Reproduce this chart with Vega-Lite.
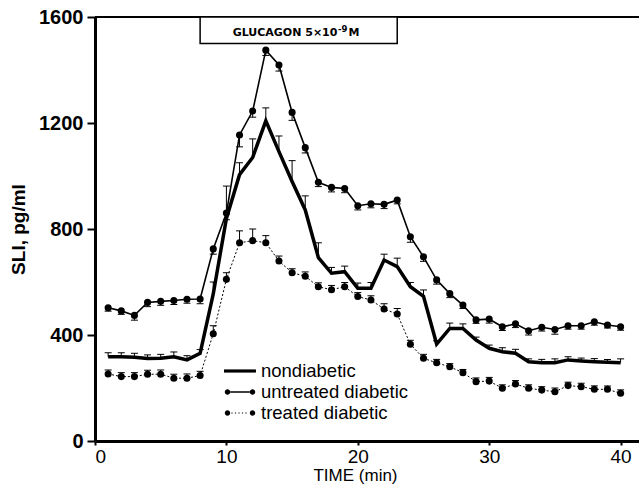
{
"$schema": "https://vega.github.io/schema/vega-lite/v6.json",
"width": 544, "height": 424,
"autosize": "none",
"padding": {"left": 95, "top": 17, "right": 0, "bottom": 44},
"background": "white",
"config": {"view": {"stroke": null}, "font": "Liberation Sans",
 "axis": {"grid": false, "domainColor": "black", "tickColor": "black", "labelColor": "black", "titleColor": "black", "labelFont": "Liberation Sans", "titleFont": "Liberation Sans"},
 "axisX": {"labelFontSize": 19, "titleFontSize": 17, "titleFontWeight": "normal", "domainWidth": 3, "tickWidth": 2, "tickSize": 4, "labelPadding": 2, "titlePadding": 1, "titleX": 260},
 "axisY": {"labelFontSize": 20, "labelFontWeight": "bold", "titleFontSize": 19, "titleFontWeight": "bold", "domainWidth": 3, "tickWidth": 2, "tickSize": 8, "labelPadding": 4, "titlePadding": 10}},
"datasets": {"sli": [
{"t":1,"s":"untreated diabetic","v":503,"e":490},{"t":2,"s":"untreated diabetic","v":491,"e":478},{"t":3,"s":"untreated diabetic","v":474,"e":456},{"t":4,"s":"untreated diabetic","v":523,"e":507},{"t":5,"s":"untreated diabetic","v":527,"e":512},{"t":6,"s":"untreated diabetic","v":530,"e":515},{"t":7,"s":"untreated diabetic","v":535,"e":520},{"t":8,"s":"untreated diabetic","v":536,"e":518},{"t":9,"s":"untreated diabetic","v":725,"e":705},{"t":10,"s":"untreated diabetic","v":860,"e":835},
{"t":11,"s":"untreated diabetic","v":1155,"e":1110},{"t":12,"s":"untreated diabetic","v":1245,"e":1222},{"t":13,"s":"untreated diabetic","v":1475,"e":1455},{"t":14,"s":"untreated diabetic","v":1419,"e":1396},{"t":15,"s":"untreated diabetic","v":1240,"e":1210},{"t":16,"s":"untreated diabetic","v":1107,"e":1087},{"t":17,"s":"untreated diabetic","v":976,"e":960},{"t":18,"s":"untreated diabetic","v":957,"e":940},{"t":19,"s":"untreated diabetic","v":953,"e":937},{"t":20,"s":"untreated diabetic","v":888,"e":872},
{"t":21,"s":"untreated diabetic","v":895,"e":880},{"t":22,"s":"untreated diabetic","v":893,"e":877},{"t":23,"s":"untreated diabetic","v":909,"e":895},{"t":24,"s":"untreated diabetic","v":771,"e":750},{"t":25,"s":"untreated diabetic","v":695,"e":678},{"t":26,"s":"untreated diabetic","v":608,"e":592},{"t":27,"s":"untreated diabetic","v":556,"e":541},{"t":28,"s":"untreated diabetic","v":513,"e":500},{"t":29,"s":"untreated diabetic","v":457,"e":444},{"t":30,"s":"untreated diabetic","v":460,"e":445},
{"t":31,"s":"untreated diabetic","v":431,"e":417},{"t":32,"s":"untreated diabetic","v":442,"e":428},{"t":33,"s":"untreated diabetic","v":416,"e":400},{"t":34,"s":"untreated diabetic","v":429,"e":415},{"t":35,"s":"untreated diabetic","v":421,"e":403},{"t":36,"s":"untreated diabetic","v":435,"e":422},{"t":37,"s":"untreated diabetic","v":435,"e":422},{"t":38,"s":"untreated diabetic","v":450,"e":437},{"t":39,"s":"untreated diabetic","v":438,"e":426},{"t":40,"s":"untreated diabetic","v":431,"e":418},
{"t":1,"s":"nondiabetic","v":318,"e":333},{"t":2,"s":"nondiabetic","v":318,"e":333},{"t":3,"s":"nondiabetic","v":316,"e":331},{"t":4,"s":"nondiabetic","v":311,"e":325},{"t":5,"s":"nondiabetic","v":312,"e":327},{"t":6,"s":"nondiabetic","v":318,"e":336},{"t":7,"s":"nondiabetic","v":306,"e":322},{"t":8,"s":"nondiabetic","v":331,"e":345},{"t":9,"s":"nondiabetic","v":555,"e":600},{"t":10,"s":"nondiabetic","v":840,"e":962},
{"t":11,"s":"nondiabetic","v":1005,"e":1050},{"t":12,"s":"nondiabetic","v":1070,"e":1140},{"t":13,"s":"nondiabetic","v":1208,"e":1257},{"t":14,"s":"nondiabetic","v":1092,"e":1151},{"t":15,"s":"nondiabetic","v":979,"e":1058},{"t":16,"s":"nondiabetic","v":872,"e":925},{"t":17,"s":"nondiabetic","v":692,"e":748},{"t":18,"s":"nondiabetic","v":633,"e":655},{"t":19,"s":"nondiabetic","v":639,"e":660},{"t":20,"s":"nondiabetic","v":576,"e":596},
{"t":21,"s":"nondiabetic","v":576,"e":598},{"t":22,"s":"nondiabetic","v":683,"e":705},{"t":23,"s":"nondiabetic","v":658,"e":690},{"t":24,"s":"nondiabetic","v":582,"e":598},{"t":25,"s":"nondiabetic","v":546,"e":570},{"t":26,"s":"nondiabetic","v":366,"e":378},{"t":27,"s":"nondiabetic","v":425,"e":445},{"t":28,"s":"nondiabetic","v":425,"e":442},{"t":29,"s":"nondiabetic","v":381,"e":392},{"t":30,"s":"nondiabetic","v":350,"e":362},
{"t":31,"s":"nondiabetic","v":337,"e":352},{"t":32,"s":"nondiabetic","v":331,"e":346},{"t":33,"s":"nondiabetic","v":299,"e":310},{"t":34,"s":"nondiabetic","v":295,"e":308},{"t":35,"s":"nondiabetic","v":295,"e":310},{"t":36,"s":"nondiabetic","v":306,"e":318},{"t":37,"s":"nondiabetic","v":302,"e":313},{"t":38,"s":"nondiabetic","v":299,"e":311},{"t":39,"s":"nondiabetic","v":297,"e":308},{"t":40,"s":"nondiabetic","v":295,"e":310},
{"t":1,"s":"treated diabetic","v":253,"e":268},{"t":2,"s":"treated diabetic","v":243,"e":258},{"t":3,"s":"treated diabetic","v":243,"e":258},{"t":4,"s":"treated diabetic","v":252,"e":267},{"t":5,"s":"treated diabetic","v":252,"e":268},{"t":6,"s":"treated diabetic","v":237,"e":252},{"t":7,"s":"treated diabetic","v":237,"e":253},{"t":8,"s":"treated diabetic","v":247,"e":263},{"t":9,"s":"treated diabetic","v":405,"e":435},{"t":10,"s":"treated diabetic","v":610,"e":635},
{"t":11,"s":"treated diabetic","v":748,"e":793},{"t":12,"s":"treated diabetic","v":756,"e":800},{"t":13,"s":"treated diabetic","v":748,"e":775},{"t":14,"s":"treated diabetic","v":679,"e":698},{"t":15,"s":"treated diabetic","v":635,"e":650},{"t":16,"s":"treated diabetic","v":622,"e":638},{"t":17,"s":"treated diabetic","v":582,"e":597},{"t":18,"s":"treated diabetic","v":571,"e":587},{"t":19,"s":"treated diabetic","v":582,"e":598},{"t":20,"s":"treated diabetic","v":545,"e":560},
{"t":21,"s":"treated diabetic","v":532,"e":548},{"t":22,"s":"treated diabetic","v":498,"e":518},{"t":23,"s":"treated diabetic","v":479,"e":500},{"t":24,"s":"treated diabetic","v":365,"e":380},{"t":25,"s":"treated diabetic","v":312,"e":327},{"t":26,"s":"treated diabetic","v":295,"e":308},{"t":27,"s":"treated diabetic","v":280,"e":292},{"t":28,"s":"treated diabetic","v":258,"e":270},{"t":29,"s":"treated diabetic","v":224,"e":238},{"t":30,"s":"treated diabetic","v":226,"e":240},
{"t":31,"s":"treated diabetic","v":199,"e":212},{"t":32,"s":"treated diabetic","v":215,"e":228},{"t":33,"s":"treated diabetic","v":199,"e":212},{"t":34,"s":"treated diabetic","v":192,"e":205},{"t":35,"s":"treated diabetic","v":186,"e":200},{"t":36,"s":"treated diabetic","v":209,"e":222},{"t":37,"s":"treated diabetic","v":205,"e":218},{"t":38,"s":"treated diabetic","v":195,"e":208},{"t":39,"s":"treated diabetic","v":195,"e":208},{"t":40,"s":"treated diabetic","v":180,"e":193}
]},
"data": {"name": "sli"},
"encoding": {
 "x": {"field": "t", "type": "quantitative", "title": "TIME (min)", "scale": {"domain": [0, 41.4], "nice": false}, "axis": {"values": [0, 10, 20, 30, 40]}},
 "y": {"field": "v", "type": "quantitative", "title": "SLI, pg/ml", "scale": {"domain": [0, 1600], "nice": false}, "axis": {"values": [0, 400, 800, 1200, 1600], "format": "d"}}
},
"layer": [
{"data": {"values": [{"t": 0, "v": 1600}]},
 "mark": {"type": "rule", "strokeWidth": 2, "color": "black"},
 "encoding": {"x2": {"datum": 41.4}}},
{"data": {"values": [{"t": 8, "t2": 23, "v": 1500, "v2": 1600}]},
 "mark": {"type": "rect", "fill": "white", "stroke": "black", "strokeWidth": 1.5},
 "encoding": {"x2": {"field": "t2"}, "y2": {"field": "v2"}}},
{"data": {"values": [{"t": 18.45, "v": 1540, "a": "GLUCAGON  5×10", "b": "-9", "c": "M"}]},
 "layer": [
  {"mark": {"type": "text", "fontSize": 11, "fontWeight": "bold", "font": "DejaVu Sans", "color": "black", "align": "right", "baseline": "middle"},
   "encoding": {"text": {"field": "a"}}},
  {"mark": {"type": "text", "fontSize": 8.5, "fontWeight": "bold", "font": "DejaVu Sans", "color": "black", "align": "left", "baseline": "middle", "dx": 0.5, "dy": -4},
   "encoding": {"text": {"field": "b"}}},
  {"mark": {"type": "text", "fontSize": 11, "fontWeight": "bold", "font": "DejaVu Sans", "color": "black", "align": "left", "baseline": "middle", "dx": 11},
   "encoding": {"text": {"field": "c"}}}
 ]},
{"mark": {"type": "rule", "strokeWidth": 1, "color": "black"},
 "encoding": {"y2": {"field": "e"}}},
{"mark": {"type": "tick", "orient": "horizontal", "size": 7, "thickness": 1, "color": "black", "opacity": 1},
 "encoding": {"y": {"field": "e", "type": "quantitative"}}},
{"transform": [{"filter": "datum.s == 'nondiabetic'"}],
 "mark": {"type": "line", "color": "black", "strokeWidth": 3.5}},
{"transform": [{"filter": "datum.s == 'untreated diabetic'"}],
 "mark": {"type": "line", "color": "black", "strokeWidth": 1.6}},
{"transform": [{"filter": "datum.s == 'treated diabetic'"}],
 "mark": {"type": "line", "color": "black", "strokeWidth": 1, "strokeDash": [2, 2]}},
{"transform": [{"filter": "datum.s != 'nondiabetic'"}],
 "mark": {"type": "point", "shape": "circle", "filled": true, "size": 50, "color": "black", "opacity": 1}},
{"data": {"values": []},
 "mark": {"type": "point", "filled": true, "color": "black", "opacity": 1},
 "encoding": {"shape": {"field": "s", "type": "nominal",
   "scale": {"domain": ["nondiabetic", "untreated diabetic", "treated diabetic"],
    "range": ["M-1.6,-0.16L1.6,-0.16L1.6,0.16L-1.6,0.16Z",
     "M-0.98,-0.07L0.98,-0.07L0.98,0.07L-0.98,0.07ZM-1.52,0A0.27,0.27 0 1,1 -0.98,0A0.27,0.27 0 1,1 -1.52,0ZM0.98,0A0.27,0.27 0 1,1 1.52,0A0.27,0.27 0 1,1 0.98,0Z",
     "M-0.86,-0.06L-0.74,-0.06L-0.74,0.06L-0.86,0.06ZM-0.51,-0.06L-0.39,-0.06L-0.39,0.06L-0.51,0.06ZM-0.16,-0.06L-0.04,-0.06L-0.04,0.06L-0.16,0.06ZM0.19,-0.06L0.31,-0.06L0.31,0.06L0.19,0.06ZM0.54,-0.06L0.66,-0.06L0.66,0.06L0.54,0.06ZM-1.52,0A0.27,0.27 0 1,1 -0.98,0A0.27,0.27 0 1,1 -1.52,0ZM0.98,0A0.27,0.27 0 1,1 1.52,0A0.27,0.27 0 1,1 0.98,0Z"]},
   "legend": {"orient": "none", "legendX": 135, "legendY": 344, "title": null, "labelFontSize": 18.5, "labelFont": "Liberation Sans", "labelColor": "black", "symbolSize": 400, "symbolFillColor": "black", "symbolStrokeWidth": 0, "labelOffset": 11, "rowPadding": 1}}}}
]
}
